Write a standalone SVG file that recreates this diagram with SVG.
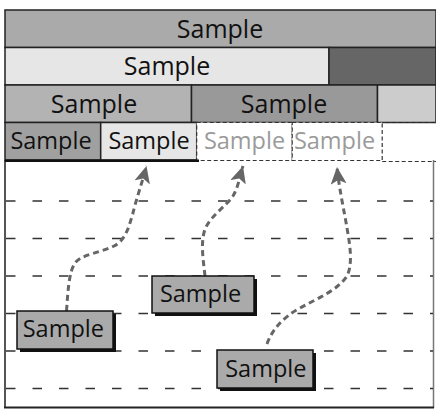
<svg xmlns="http://www.w3.org/2000/svg" width="436" height="411" viewBox="0 0 436 411">
<defs>
<style>
.cell{stroke:#222;stroke-width:1.5}
.t{font-family:"Open Sans","DejaVu Sans",sans-serif;fill:#111;text-anchor:middle}
.big{font-size:25px}
.small{font-size:23.5px}
.ghost{fill:#9a9a9a}
.grid{stroke:#333;stroke-width:1.5;stroke-dasharray:9.5 17;fill:none}
.dcell{fill:#fff;stroke:#333;stroke-width:1.2;stroke-dasharray:4 2.5}
.dline{stroke:#333;stroke-width:1.2;stroke-dasharray:4 2.5;fill:none}
.arrow{fill:none;stroke:#666;stroke-width:3;stroke-dasharray:6 4}
.box{fill:#aaa;stroke:#111;stroke-width:1.5}
.shadow{fill:#111}
</style>
<marker id="head" markerUnits="userSpaceOnUse" markerWidth="20" markerHeight="18" viewBox="0 0 20 18" refX="17" refY="8" orient="auto">
<path d="M17,8 L0,0 L4,8 L0,16 Z" fill="#666"/>
</marker>
</defs>
<rect x="0" y="0" width="436" height="411" fill="#fff"/>

<g id="frame">
<line x1="5" y1="160" x2="5" y2="408" stroke="#555" stroke-width="2"/>
<line x1="433.5" y1="160" x2="433.5" y2="408" stroke="#777" stroke-width="1.5"/>
<line x1="4" y1="407.5" x2="434" y2="407.5" stroke="#222" stroke-width="2"/>
<line class="grid" x1="6" y1="201" x2="433" y2="201"/>
<line class="grid" x1="6" y1="238.5" x2="433" y2="238.5"/>
<line class="grid" x1="6" y1="276" x2="433" y2="276"/>
<line class="grid" x1="6" y1="313.5" x2="433" y2="313.5"/>
<line class="grid" x1="6" y1="351" x2="433" y2="351"/>
<line class="grid" x1="6" y1="388.5" x2="433" y2="388.5"/>
</g>

<g id="row1">
<rect class="cell" x="5" y="10" width="431" height="37.5" fill="#aaa"/>
<text class="t big" x="220" y="38.3">Sample</text>
</g>
<g id="row2a">
<rect class="cell" x="5" y="47.5" width="324" height="37.5" fill="#e6e6e6"/>
<text class="t big" x="167" y="75.3">Sample</text>
</g>
<g id="row2b">
<rect class="cell" x="329" y="47.5" width="107" height="37.5" fill="#666"/>
</g>
<g id="row3a">
<rect class="cell" x="5" y="85" width="186.5" height="37.5" fill="#b3b3b3"/>
<text class="t big" x="94" y="112.6">Sample</text>
</g>
<g id="row3b">
<rect class="cell" x="191.5" y="85" width="186" height="37.5" fill="#999"/>
<text class="t big" x="284" y="112.6">Sample</text>
</g>
<g id="row3c">
<rect class="cell" x="377.5" y="85" width="58.5" height="37.5" fill="#ccc"/>
</g>
<g id="row4a">
<rect class="cell" x="5" y="122.5" width="95.7" height="37.5" fill="#a0a0a0"/>
<text class="t small" x="51" y="149.4">Sample</text>
</g>
<g id="row4b">
<rect class="cell" x="100.7" y="122.5" width="96" height="37.5" fill="#e6e6e6"/>
<text class="t small" x="149" y="149.4">Sample</text>
</g>
<g id="row4c">
<rect class="dcell" x="196.7" y="122.5" width="95.5" height="38"/>
<text class="t small ghost" x="244.5" y="149.4">Sample</text>
</g>
<g id="row4d">
<rect class="dcell" x="292.2" y="122.5" width="90" height="38"/>
<text class="t small ghost" x="334.5" y="149.4">Sample</text>
</g>
<g id="row4e">
<line class="dline" x1="382.2" y1="122.5" x2="436" y2="122.5"/>
<line class="dline" x1="382.2" y1="161.5" x2="436" y2="161.5"/>
</g>
<line x1="5" y1="160.8" x2="199" y2="160.8" stroke="#111" stroke-width="2.5"/>

<g id="connectors">
<path class="arrow" marker-end="url(#head)" d="M66.5,311 C68,290 69,272 75,263 C82,254 100,253 114,246 C126,240 129,226 133,213 C136,200 142,183 146.5,166"/>
<path class="arrow" marker-end="url(#head)" d="M205,276 C203,258 200,240 206,227 C212,215 226,206 233,196 C238,188 240,176 243,166"/>
<path class="arrow" marker-end="url(#head)" d="M267,344 C272,330 282,318 300,308 C318,298 338,290 347,276 C353,264 350,245 347,228 C344,210 339,188 337,167"/>
</g>

<g id="box1">
<rect class="shadow" x="20" y="314" width="96" height="38"/>
<rect class="box" x="17" y="311" width="96" height="38"/>
<text class="t small" x="63.3" y="337">Sample</text>
</g>
<g id="box2">
<rect class="shadow" x="155" y="279" width="102" height="37"/>
<rect class="box" x="152" y="276" width="102" height="37"/>
<text class="t small" x="200.5" y="301.7">Sample</text>
</g>
<g id="box3">
<rect class="shadow" x="220" y="353" width="96" height="38"/>
<rect class="box" x="217" y="350" width="96" height="38"/>
<text class="t small" x="265.8" y="376.7">Sample</text>
</g>
</svg>
